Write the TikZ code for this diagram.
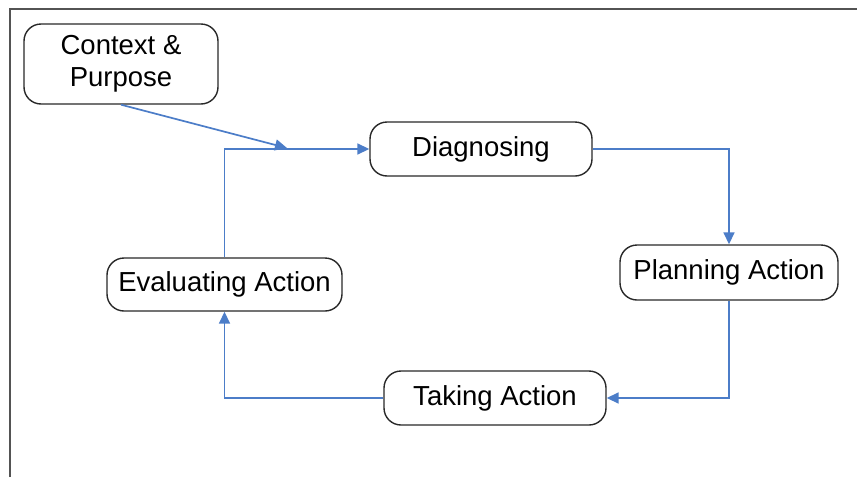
\documentclass[tikz,border=0pt]{standalone}
\usepackage{fontspec}
\setmainfont{Liberation Sans}
\usetikzlibrary{arrows.meta}
\definecolor{flowblue}{RGB}{76,125,200}
\definecolor{edgegray}{RGB}{40,40,40}
\begin{document}
\begin{tikzpicture}[x=1pt,y=-1pt,
  stage/.style={draw=edgegray, line width=1.4pt, rounded corners=17pt,
    inner sep=0pt, align=center, font=\fontsize{27.5}{33}\selectfont},
  flow/.style={draw=flowblue, line width=1.7pt,
    -{Triangle[length=12pt,width=11pt]}},
  frame/.style={draw=edgegray!80, line width=2pt}]
  \useasboundingbox (0,0) rectangle (857,477);
  % page frame
  \draw[frame] (10,477) -- (10,9) -- (857,9);
  % stages of the cycle
  \node[stage, minimum width=194pt, minimum height=80pt] (ctx) at (121,64) {\raisebox{-1pt}{Context \&}\\Purpose};
  \node[stage, minimum width=222pt, minimum height=54pt] (diag) at (481,149) {\raisebox{-2pt}{Diagnosing}};
  \node[stage, minimum width=218pt, minimum height=55pt] (plan) at (729,272.5) {\raisebox{-2pt}{Planning Action}};
  \node[stage, minimum width=222pt, minimum height=54pt] (take) at (495,398) {\raisebox{-2pt}{Taking Action}};
  \node[stage, minimum width=235pt, minimum height=53pt] (eval) at (224.5,284.5) {\raisebox{-2pt}{Evaluating Action}};
  % where the context arrow meets the loop
  \coordinate (join) at (287,148);
  % connectors
  \draw[flow] (ctx.south) -- (join);
  \draw[flow] (eval.north) |- (diag.west);
  \draw[flow] (diag.east) -| (plan.north);
  \draw[flow] (plan.south) |- (take.east);
  \draw[flow] (take.west) -| (eval.south);
\end{tikzpicture}
\end{document}
